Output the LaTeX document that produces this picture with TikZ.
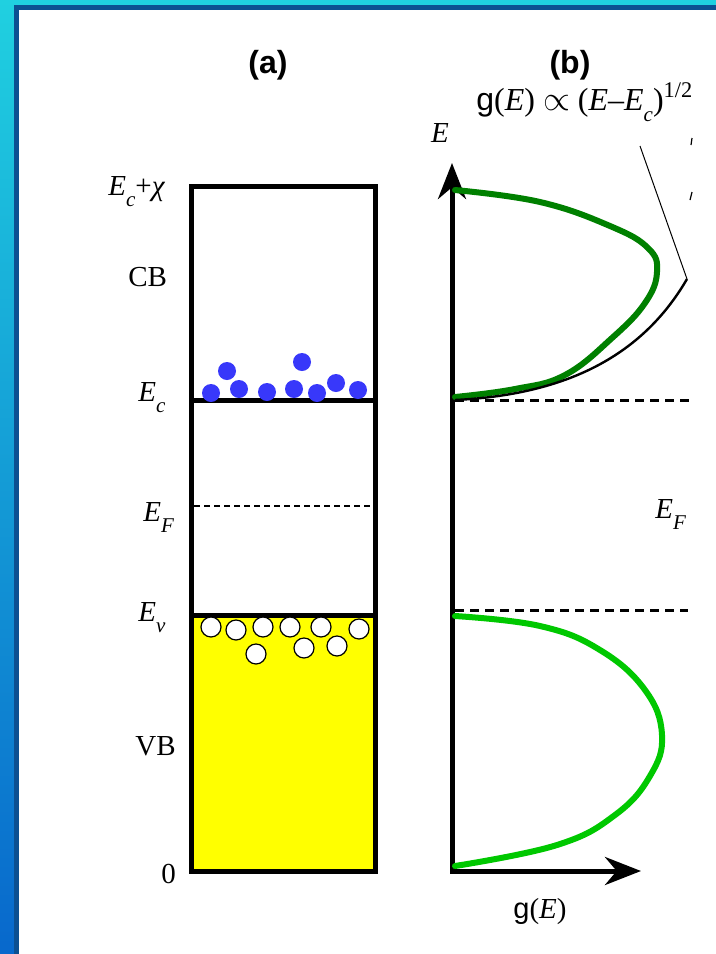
\documentclass[tikz,border=0pt]{standalone}
\usepackage{fontspec}
\setmainfont{Liberation Serif}
\setsansfont{Liberation Sans}
\usetikzlibrary{arrows.meta}
\definecolor{frametop}{RGB}{32,208,224}
\definecolor{framebot}{RGB}{8,104,204}
\definecolor{framedark}{RGB}{12,80,146}
\definecolor{electron}{RGB}{56,56,250}
\definecolor{vbfill}{RGB}{255,255,0}
\definecolor{dosdark}{RGB}{0,128,0}
\definecolor{doslight}{RGB}{0,200,0}
\newcommand{\enlev}[2]{\textit{#1}\raisebox{-5.5pt}{\fontsize{10.5}{11}\selectfont\textit{#2}}}
\begin{document}
\begin{tikzpicture}[x=0.5pt, y=-0.5pt,
  lbl/.style={font=\fontsize{14.5}{17}\selectfont, inner sep=0pt},
  panel/.style={font=\sffamily\bfseries\fontsize{16}{18}\selectfont, inner sep=0pt},
  band/.style={line width=2.5pt},
  axis/.style={line width=2.5pt, {Stealth[length=18pt,width=14pt]}-{Stealth[length=18pt,width=14pt]}},
  level/.style={line width=0.7pt, dash pattern=on 3pt off 2pt},
  levelR/.style={line width=1.5pt, dash pattern=on 4.5pt off 3pt}]
  % Cadre
  \useasboundingbox (0,0) rectangle (716,954);
  \shade[top color=frametop, bottom color=framebot] (0,0) rectangle (14,954);
  \fill[frametop] (0,0) rectangle (716,5);
  \fill[framedark] (14,5) rectangle (716,954);
  \fill[white] (19,10) rectangle (716,954);
  % Titres
  \node[panel] (lblA) at (268,65) {(a)};
  \node[panel] (lblB) at (570,65) {(b)};
  % (a) Bande de valence remplie
  \fill[vbfill] (191.5,615.5) rectangle (375.5,871.5);
  \draw[band] (191.5,186.5) rectangle (375.5,871.5);
  \draw[band] (191.5,400) -- (375.5,400);
  \draw[band] (191.5,615.5) -- (375.5,615.5);
  \draw[level] (194,506) -- (373,506);
  % Electrons et trous
  \foreach \x/\y in {211/393, 227/371, 239/389, 267/392, 294/389, 302/362, 317/393, 336/383, 358/390}
    \fill[electron] (\x,\y) circle (9);
  \foreach \x/\y in {211/627, 236/630, 263/627, 290/627, 321/627, 359/629, 256/654, 304/648, 337/646}
    \filldraw[fill=white, draw=black, line width=0.6pt] (\x,\y) circle (10);
  % Etiquettes (a)
  \node[lbl, anchor=base west] (ecchi) at (108,195) {\enlev{E}{c}+\textit{χ}};
  \node[lbl, anchor=base west] (cb) at (128,286) {CB};
  \node[lbl, anchor=base west] (ec) at (138,401) {\enlev{E}{c}};
  \node[lbl, anchor=base west] (ef) at (143,521) {\enlev{E}{F}};
  \node[lbl, anchor=base west] (ev) at (138,621) {\enlev{E}{v}};
  \node[lbl, anchor=base west] (vb) at (135,755) {VB};
  \node[lbl, anchor=base west] (zero) at (161,883) {0};
  % (b) Axes
  \coordinate (O) at (452,871);
  \coordinate (Etip) at (452,163);
  \coordinate (gtip) at (641,871);
  \draw[axis] (Etip) -- (O) -- (gtip);
  \node[lbl, font=\fontsize{14.5}{16}\selectfont\itshape] (axE) at (440,133) {E};
  \node[lbl, anchor=base] (axg) at (540,918) {\textsf{g}(\textit{E})};
  % Niveaux Ec, Ev, EF
  \draw[levelR] (455,400) -- (693,400);
  \draw[levelR] (455,610) -- (688,610);
  \node[lbl, anchor=base west] (efR) at (655,518) {\enlev{E}{F}};
  % Densite d'etats
  \draw[dosdark, line width=3pt, line cap=round] plot[smooth, tension=0.7] coordinates {(455,190) (540,202) (610,226) (648,248) (657,272) (645,303) (612,338) (565,375) (515,389) (455,397)};
  \draw[doslight, line width=3pt, line cap=round] plot[smooth, tension=0.7] coordinates {(455,616) (540,626) (600,650) (645,690) (662,735) (650,776) (615,815) (557,845) (455,866)};
  % Loi en racine
  \coordinate (fitend) at (687,279);
  \draw[line width=1.2pt] (455,400) .. controls (560,395) and (640,360) .. (fitend);
  \node[lbl, anchor=base west, font=\fontsize{16}{18}\selectfont] (dosfit) at (476,110) {\textsf{g}(\textit{E}) $\propto$ (\textit{E}–\enlev{E}{c})\textsuperscript{1/2}};
  \coordinate (fitlab) at (640,146);
  \draw[line width=0.5pt] (fitlab) -- (fitend);
  % Traits coupes au bord
  \draw[line width=0.6pt] (692,138) -- (691,145);
  \draw[line width=0.6pt] (692,192) -- (690,200);
\end{tikzpicture}
\end{document}
